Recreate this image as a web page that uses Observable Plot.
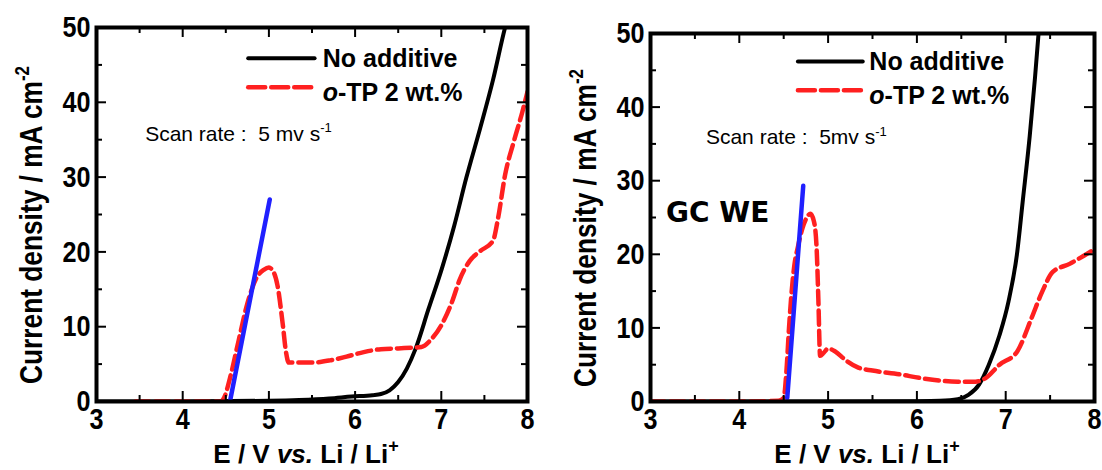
<!DOCTYPE html>
<html><head><meta charset="utf-8">
<script src="https://cdn.jsdelivr.net/npm/d3@7"></script>
<script src="https://cdn.jsdelivr.net/npm/@observablehq/plot@0.6"></script>
<style>
body{margin:0;background:#fff;}
#wrap{display:flex;width:1102px;height:470px;overflow:hidden;}
#wrap svg{display:block;flex:none;}
</style></head><body><div id="wrap"></div>
<script>
// ---- axis ticks ----
const xTicks = [3, 4, 5, 6, 7, 8];
const yTicks = [0, 10, 20, 30, 40, 50];
const xMinor = [3.5, 4.5, 5.5, 6.5, 7.5];
const yMinor = [5, 15, 25, 35, 45];

// ---- left panel data ----
const leftNoE = [3.0, 4.0, 5.0, 5.35, 5.7, 5.96, 6.2, 6.3, 6.4, 6.5, 6.6, 6.7, 6.85, 7.01, 7.15, 7.29, 7.45, 7.6, 7.74, 7.8];
const leftNoJ = [0, 0, 0.1, 0.2, 0.4, 0.66, 0.85, 1.0, 1.5, 2.6, 4.4, 7.0, 12.3, 17.9, 23.5, 29.9, 36.5, 43, 50, 52.5];
const leftTpE = [3.45, 4.0, 4.44, 4.48, 4.55, 4.65, 4.75, 4.87, 4.94, 5.0, 5.05, 5.1, 5.16, 5.2, 5.23, 5.3, 5.5, 5.71, 5.9, 6.1, 6.3, 6.5, 6.77, 6.89, 7.01, 7.13, 7.21, 7.33, 7.45, 7.6, 7.66, 7.74, 7.84, 7.94, 8.0];
const leftTpJ = [0, 0, 0, 0.5, 3.2, 8.2, 13.1, 16.8, 17.6, 17.9, 17.4, 15.5, 10.4, 6.5, 5.2, 5.2, 5.2, 5.5, 6.0, 6.6, 7.0, 7.1, 7.3, 8.4, 10.4, 13.5, 16.2, 18.8, 20.1, 21.5, 24.6, 30.3, 34.7, 38.7, 41.4];
const leftFitE = [4.55, 5.01];
const leftFitJ = [0.1, 27];

// ---- right panel data ----
const rightNoE = [3.0, 4.0, 5.0, 6.0, 6.26, 6.46, 6.58, 6.70, 6.81, 6.93, 7.03, 7.13, 7.19, 7.27, 7.33, 7.37, 7.4];
const rightNoJ = [0, 0, 0, 0.05, 0.1, 0.3, 0.9, 2.3, 5, 9, 13.5, 20.3, 27, 36, 44, 50, 55];
const rightTpE = [3.0, 4.0, 4.44, 4.5, 4.53, 4.56, 4.59, 4.62, 4.66, 4.71, 4.76, 4.80, 4.84, 4.87, 4.89, 4.91, 4.95, 5.0, 5.08, 5.2, 5.34, 5.5, 5.8, 6.06, 6.46, 6.66, 6.77, 6.93, 7.13, 7.29, 7.41, 7.53, 7.72, 7.88, 8.0];
const rightTpJ = [0, 0, 0.1, 0.5, 4, 10, 15, 18.5, 21, 23.5, 25, 25.5, 24.5, 21, 14, 6.2, 6.6, 7.2, 6.8, 5.6, 4.6, 4.2, 3.7, 3.15, 2.7, 2.7, 3.15, 5, 6.8, 11.3, 14.9, 17.6, 18.7, 19.8, 20.7];
const rightFitE = [4.54, 4.72];
const rightFitJ = [0.5, 29.3];

// ---- labels ----
const seriesNames = ["No additive", "o-TP 2 wt.%"];
const yLabel = "Current density / mA cm";
const scanLeft = "Scan rate\u00a0:\u00a0 5 mv s";
const scanRight = "Scan rate\u00a0:\u00a0 5mv s";
const weLabel = "GC WE";

// legend / annotation anchor positions (data units)
const leftLegendE = [4.76, 5.53, 5.63];
const leftLegendJ = [45.9, 42.0, 41.3];
const leftScan = [3.57, 35.8];
const rightLegendE = [4.66, 5.39, 5.47];
const rightLegendJ = [46.2, 42.3, 41.6];
const rightScan = [3.63, 35.9];
const rightWE = [3.18, 25.7];

const SANS = "'Liberation Sans', Arial, sans-serif";

function rows(E, J) { return E.map((e, i) => ({E: e, J: J[i]})); }

function addText(svg, parts, x, y, o) {
  const t = svg.append("text")
    .attr("x", x).attr("y", y)
    .attr("font-family", o.family || SANS)
    .attr("font-size", o.size)
    .attr("font-weight", o.weight || "normal")
    .attr("text-anchor", o.anchor || "start")
    .attr("fill", "black");
  if (o.rotate) t.attr("transform", `rotate(${o.rotate},${x},${y})`);
  if (o.dy) t.attr("dy", o.dy);
  if (o.length) t.attr("textLength", o.length).attr("lengthAdjust", "spacingAndGlyphs");
  for (const p of parts) {
    const s = t.append("tspan").text(p.t);
    if (p.i) s.attr("font-style", "italic");
    if (p.sup) s.attr("font-size", o.supSize).attr("dy", -o.size * 0.42);
  }
  return t;
}

function panel(cfg) {
  const W = cfg.W, H = 470;
  const ih = H - cfg.mt - cfg.mb, iw = W - cfg.ml - cfg.mr;
  const legendRows = [
    {E: cfg.legE[0], J: cfg.legJ[0], s: seriesNames[0]}, {E: cfg.legE[1], J: cfg.legJ[0], s: seriesNames[0]},
    {E: cfg.legE[0], J: cfg.legJ[1], s: seriesNames[1]}, {E: cfg.legE[1], J: cfg.legJ[1], s: seriesNames[1]}
  ];
  const plot = Plot.plot({
    width: W, height: H,
    marginLeft: cfg.ml, marginRight: cfg.mr, marginTop: cfg.mt, marginBottom: cfg.mb,
    x: {domain: [3, 8]},
    y: {domain: [0, 50]},
    style: {fontFamily: SANS, background: "white", overflow: "visible"},
    marks: [
      Plot.line(rows(cfg.noE, cfg.noJ), {x: "E", y: "J", stroke: "black", strokeWidth: 4, curve: "monotone-x", clip: true}),
      Plot.line(rows(cfg.tpE, cfg.tpJ), {x: "E", y: "J", stroke: "#ff2020", strokeWidth: 4.5, strokeDasharray: "14,6", curve: "monotone-x", clip: true}),
      Plot.line(rows(cfg.fitE, cfg.fitJ), {x: "E", y: "J", stroke: "#2020ff", strokeWidth: 4.5}),
      Plot.line(legendRows.filter(d => d.s === seriesNames[0]), {x: "E", y: "J", stroke: "black", strokeWidth: 4}),
      Plot.line(legendRows.filter(d => d.s === seriesNames[1]), {x: "E", y: "J", stroke: "#ff2020", strokeWidth: 4.5, strokeDasharray: "17,6"}),
      Plot.tickX(xTicks, {x: d => d, insetTop: ih - 10, stroke: "black", strokeWidth: 2}),
      Plot.tickX(xTicks, {x: d => d, insetBottom: ih - 10, stroke: "black", strokeWidth: 2}),
      Plot.tickX(xMinor, {x: d => d, insetTop: ih - 6, stroke: "black", strokeWidth: 2}),
      Plot.tickX(xMinor, {x: d => d, insetBottom: ih - 6, stroke: "black", strokeWidth: 2}),
      Plot.tickY(yTicks, {y: d => d, insetRight: iw - 10, stroke: "black", strokeWidth: 2}),
      Plot.tickY(yTicks, {y: d => d, insetLeft: iw - 10, stroke: "black", strokeWidth: 2}),
      Plot.tickY(yMinor, {y: d => d, insetRight: iw - 6, stroke: "black", strokeWidth: 2}),
      Plot.tickY(yMinor, {y: d => d, insetLeft: iw - 6, stroke: "black", strokeWidth: 2}),
      Plot.frame({stroke: "black", strokeWidth: 4}),
      Plot.axisX({ticks: xTicks, tickFormat: d => String(d), tickSize: 0, tickPadding: 6, label: null, fontSize: 30, fontWeight: "bold"}),
      Plot.axisY({ticks: yTicks, tickFormat: d => String(d), tickSize: 0, tickPadding: 6, label: null, fontSize: 30, fontWeight: "bold"})
    ]
  });
  const sx = plot.scale("x").apply, sy = plot.scale("y").apply;
  const svg = d3.select(plot);
  // condensed tick labels
  svg.selectAll("g[aria-label$='tick label'] text").each(function () {
    const n = this.textContent.length;
    d3.select(this).attr("fill", "black").attr("textLength", n * 14).attr("lengthAdjust", "spacingAndGlyphs");
  });
  // y label (condensed)
  addText(svg, [{t: yLabel}, {t: "-2", sup: true}], cfg.ylx, cfg.yly,
    {size: 31, supSize: 20, weight: "bold", anchor: "middle", rotate: -90, length: 318});
  // x label
  addText(svg, [{t: "E / V "}, {t: "vs.", i: true}, {t: " Li / Li"}, {t: "+", sup: true}], cfg.xlx, 463,
    {size: 26, supSize: 18, weight: "bold", anchor: "middle"});
  // legend texts
  addText(svg, [{t: seriesNames[0]}], sx(cfg.legE[2]), sy(cfg.legJ[0]), {size: 25, weight: "bold", dy: "0.36em"});
  addText(svg, [{t: "o", i: true}, {t: seriesNames[1].slice(1)}], sx(cfg.legE[2]), sy(cfg.legJ[2]), {size: 25, weight: "bold", dy: "0.36em"});
  // scan rate
  addText(svg, [{t: cfg.scanText}, {t: "-1", sup: true}], sx(cfg.scan[0]), sy(cfg.scan[1]),
    {size: 21, supSize: 13, dy: "0.36em"});
  if (cfg.we) {
    addText(svg, [{t: weLabel}], sx(cfg.we[0]), sy(cfg.we[1]),
      {family: "'DejaVu Sans', sans-serif", size: 28, weight: "bold", dy: "0.36em"});
  }
  return plot;
}

const wrap = document.getElementById("wrap");
wrap.appendChild(panel({
  W: 551, ml: 96, mr: 24, mt: 27, mb: 69,
  noE: leftNoE, noJ: leftNoJ, tpE: leftTpE, tpJ: leftTpJ, fitE: leftFitE, fitJ: leftFitJ,
  legE: leftLegendE, legJ: leftLegendJ, scan: leftScan, scanText: scanLeft,
  ylx: 42, yly: 225, xlx: 306
}));
wrap.appendChild(panel({
  W: 551, ml: 99, mr: 8, mt: 33, mb: 69,
  noE: rightNoE, noJ: rightNoJ, tpE: rightTpE, tpJ: rightTpJ, fitE: rightFitE, fitJ: rightFitJ,
  legE: rightLegendE, legJ: rightLegendJ, scan: rightScan, scanText: scanRight, we: rightWE,
  ylx: 45, yly: 228, xlx: 316
}));
</script></body></html>
